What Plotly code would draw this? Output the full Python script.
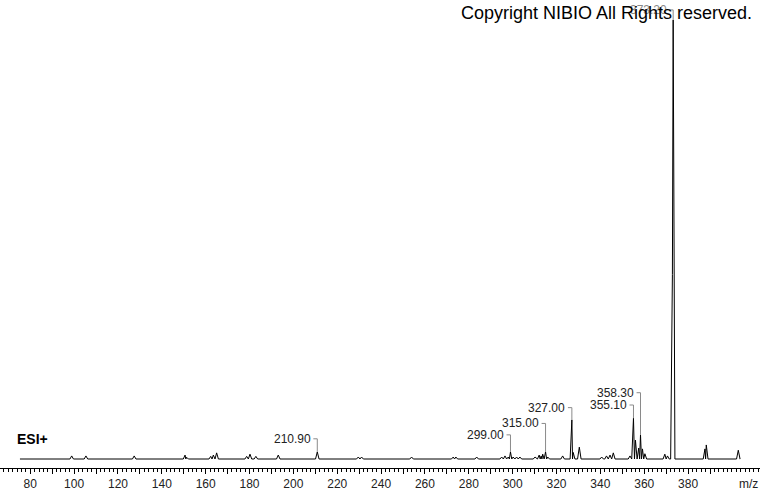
import plotly.graph_objects as go

# ---- data (m/z, relative intensity %) ----
peak_mz = [98.9, 105.4, 127.4, 150.6, 151.3, 162.3, 163.5, 165.0, 178.7, 180.2,
           182.9, 193.1, 210.9, 229.6, 231.1, 253.9, 272.9, 274.1, 283.6, 295.0,
           296.5, 298.0, 299.0, 300.2, 301.8, 303.3, 310.2, 312.1, 313.0, 313.7,
           315.0, 316.0, 322.8, 327.0, 327.6, 330.4, 340.6, 342.8, 344.4, 345.9,
           353.5, 355.1, 356.0, 357.5, 358.3, 359.2, 360.3, 369.4, 370.6, 372.85,
           373.2, 387.7, 388.3, 402.9]
peak_int = [0.7, 0.7, 0.7, 0.9, 0.4, 0.6, 0.9, 1.4, 0.6, 1.1,
            0.6, 0.9, 1.6, 0.45, 0.45, 0.45, 0.45, 0.45, 0.45, 0.45,
            0.7, 0.45, 1.6, 0.45, 0.45, 0.45, 0.45, 0.9, 0.7, 1.1,
            1.6, 0.45, 0.7, 8.9, 1.5, 2.7, 0.45, 0.7, 0.9, 1.4,
            0.7, 9.3, 4.3, 2.5, 5.5, 2.3, 1.2, 1.1, 0.7, 42.0,
            100.0, 2.3, 3.2, 2.0]
scan_start, scan_end = 75.3, 403.6

label_mz = [210.90, 299.00, 315.00, 327.00, 355.10, 358.30, 373.20]
label_text = ["210.90", "299.00", "315.00", "327.00", "355.10", "358.30", "373.20"]
label_top = [1.6, 1.6, 1.6, 8.9, 9.3, 5.5, 100.0]
label_y = [4.6, 5.5, 8.1, 11.7, 12.3, 15.1, 102.3]

tick_vals = list(range(80, 400, 10))
tick_text = [str(v) if v % 20 == 0 else "" for v in tick_vals]

# ---- build profile polyline from the peak list ----
W = 0.8
JOIN = 0.5
xs, ys = [scan_start], [0.0]
n = len(peak_mz)
for i in range(n):
    c, h = peak_mz[i], peak_int[i]
    gl = c - peak_mz[i - 1] if i > 0 else 99
    gr = peak_mz[i + 1] - c if i < n - 1 else 99
    if gl >= JOIN:
        xs.append(c - min(W, gl / 2)); ys.append(0.0)
    xs.append(c); ys.append(h)
    if gr >= JOIN:
        xs.append(c + min(W, gr / 2)); ys.append(0.0)
xs.append(scan_end); ys.append(0.0)

fig = go.Figure()
fig.add_trace(go.Scatter(x=xs, y=ys, mode="lines",
                         line=dict(color="black", width=1), hoverinfo="skip"))

# leader lines
lx, ly = [], []
for m, t, yy in zip(label_mz, label_top, label_y):
    lx += [m - 1.8, m, m, None]
    ly += [yy, yy, t, None]
fig.add_trace(go.Scatter(x=lx, y=ly, mode="lines",
                         line=dict(color="#8a8a8a", width=1), hoverinfo="skip"))

annos = []
for m, txt, yy in zip(label_mz, label_text, label_y):
    annos.append(dict(x=m - 2.0, y=yy, xref="x", yref="y", text=txt,
                      showarrow=False, xanchor="right", yanchor="middle",
                      font=dict(family="Liberation Sans, Arial", size=12,
                                color="#8a8a8a" if txt == "373.20" else "#222")))
annos.append(dict(x=15 / 760, y=1 - 439 / 468, xref="paper", yref="paper",
                  text="<b>ESI+</b>", showarrow=False, xanchor="left", yanchor="middle",
                  font=dict(family="Liberation Sans, Arial", size=14, color="black")))
annos.append(dict(x=748 / 760, y=(468 - 484) / 468, xref="paper", yref="paper",
                  text="m/z", showarrow=False, xanchor="center", yanchor="middle",
                  font=dict(family="Liberation Sans, Arial", size=12, color="#222")))
annos.append(dict(x=754 / 760, y=1 - 13 / 468, xref="paper", yref="paper",
                  text="Copyright NIBIO All Rights reserved.", showarrow=False,
                  xanchor="right", yanchor="middle",
                  font=dict(family="Liberation Sans, Arial", size=18, color="black")))

fig.update_layout(
    width=760, height=492,
    margin=dict(l=0, r=0, t=0, b=24),
    paper_bgcolor="white", plot_bgcolor="white",
    showlegend=False,
    annotations=annos,
    xaxis=dict(range=[66.2, 412.8], showline=True, linecolor="black", linewidth=1,
               ticks="outside", tickvals=tick_vals, ticktext=tick_text,
               ticklen=5, tickcolor="black", tickwidth=1,
               minor=dict(dtick=2, tick0=0, ticklen=3, ticks="outside",
                          tickcolor="black", showgrid=False),
               tickfont=dict(family="Liberation Sans, Arial", size=12, color="#222"),
               showgrid=False, zeroline=False, automargin=False, fixedrange=True),
    yaxis=dict(range=[-2.05, 104.56], visible=False, showgrid=False,
               zeroline=False, automargin=False, fixedrange=True),
)

fig.write_html("out.html", config={"displayModeBar": False},
               post_script="document.body.style.margin='0';document.body.style.overflow='hidden';")
